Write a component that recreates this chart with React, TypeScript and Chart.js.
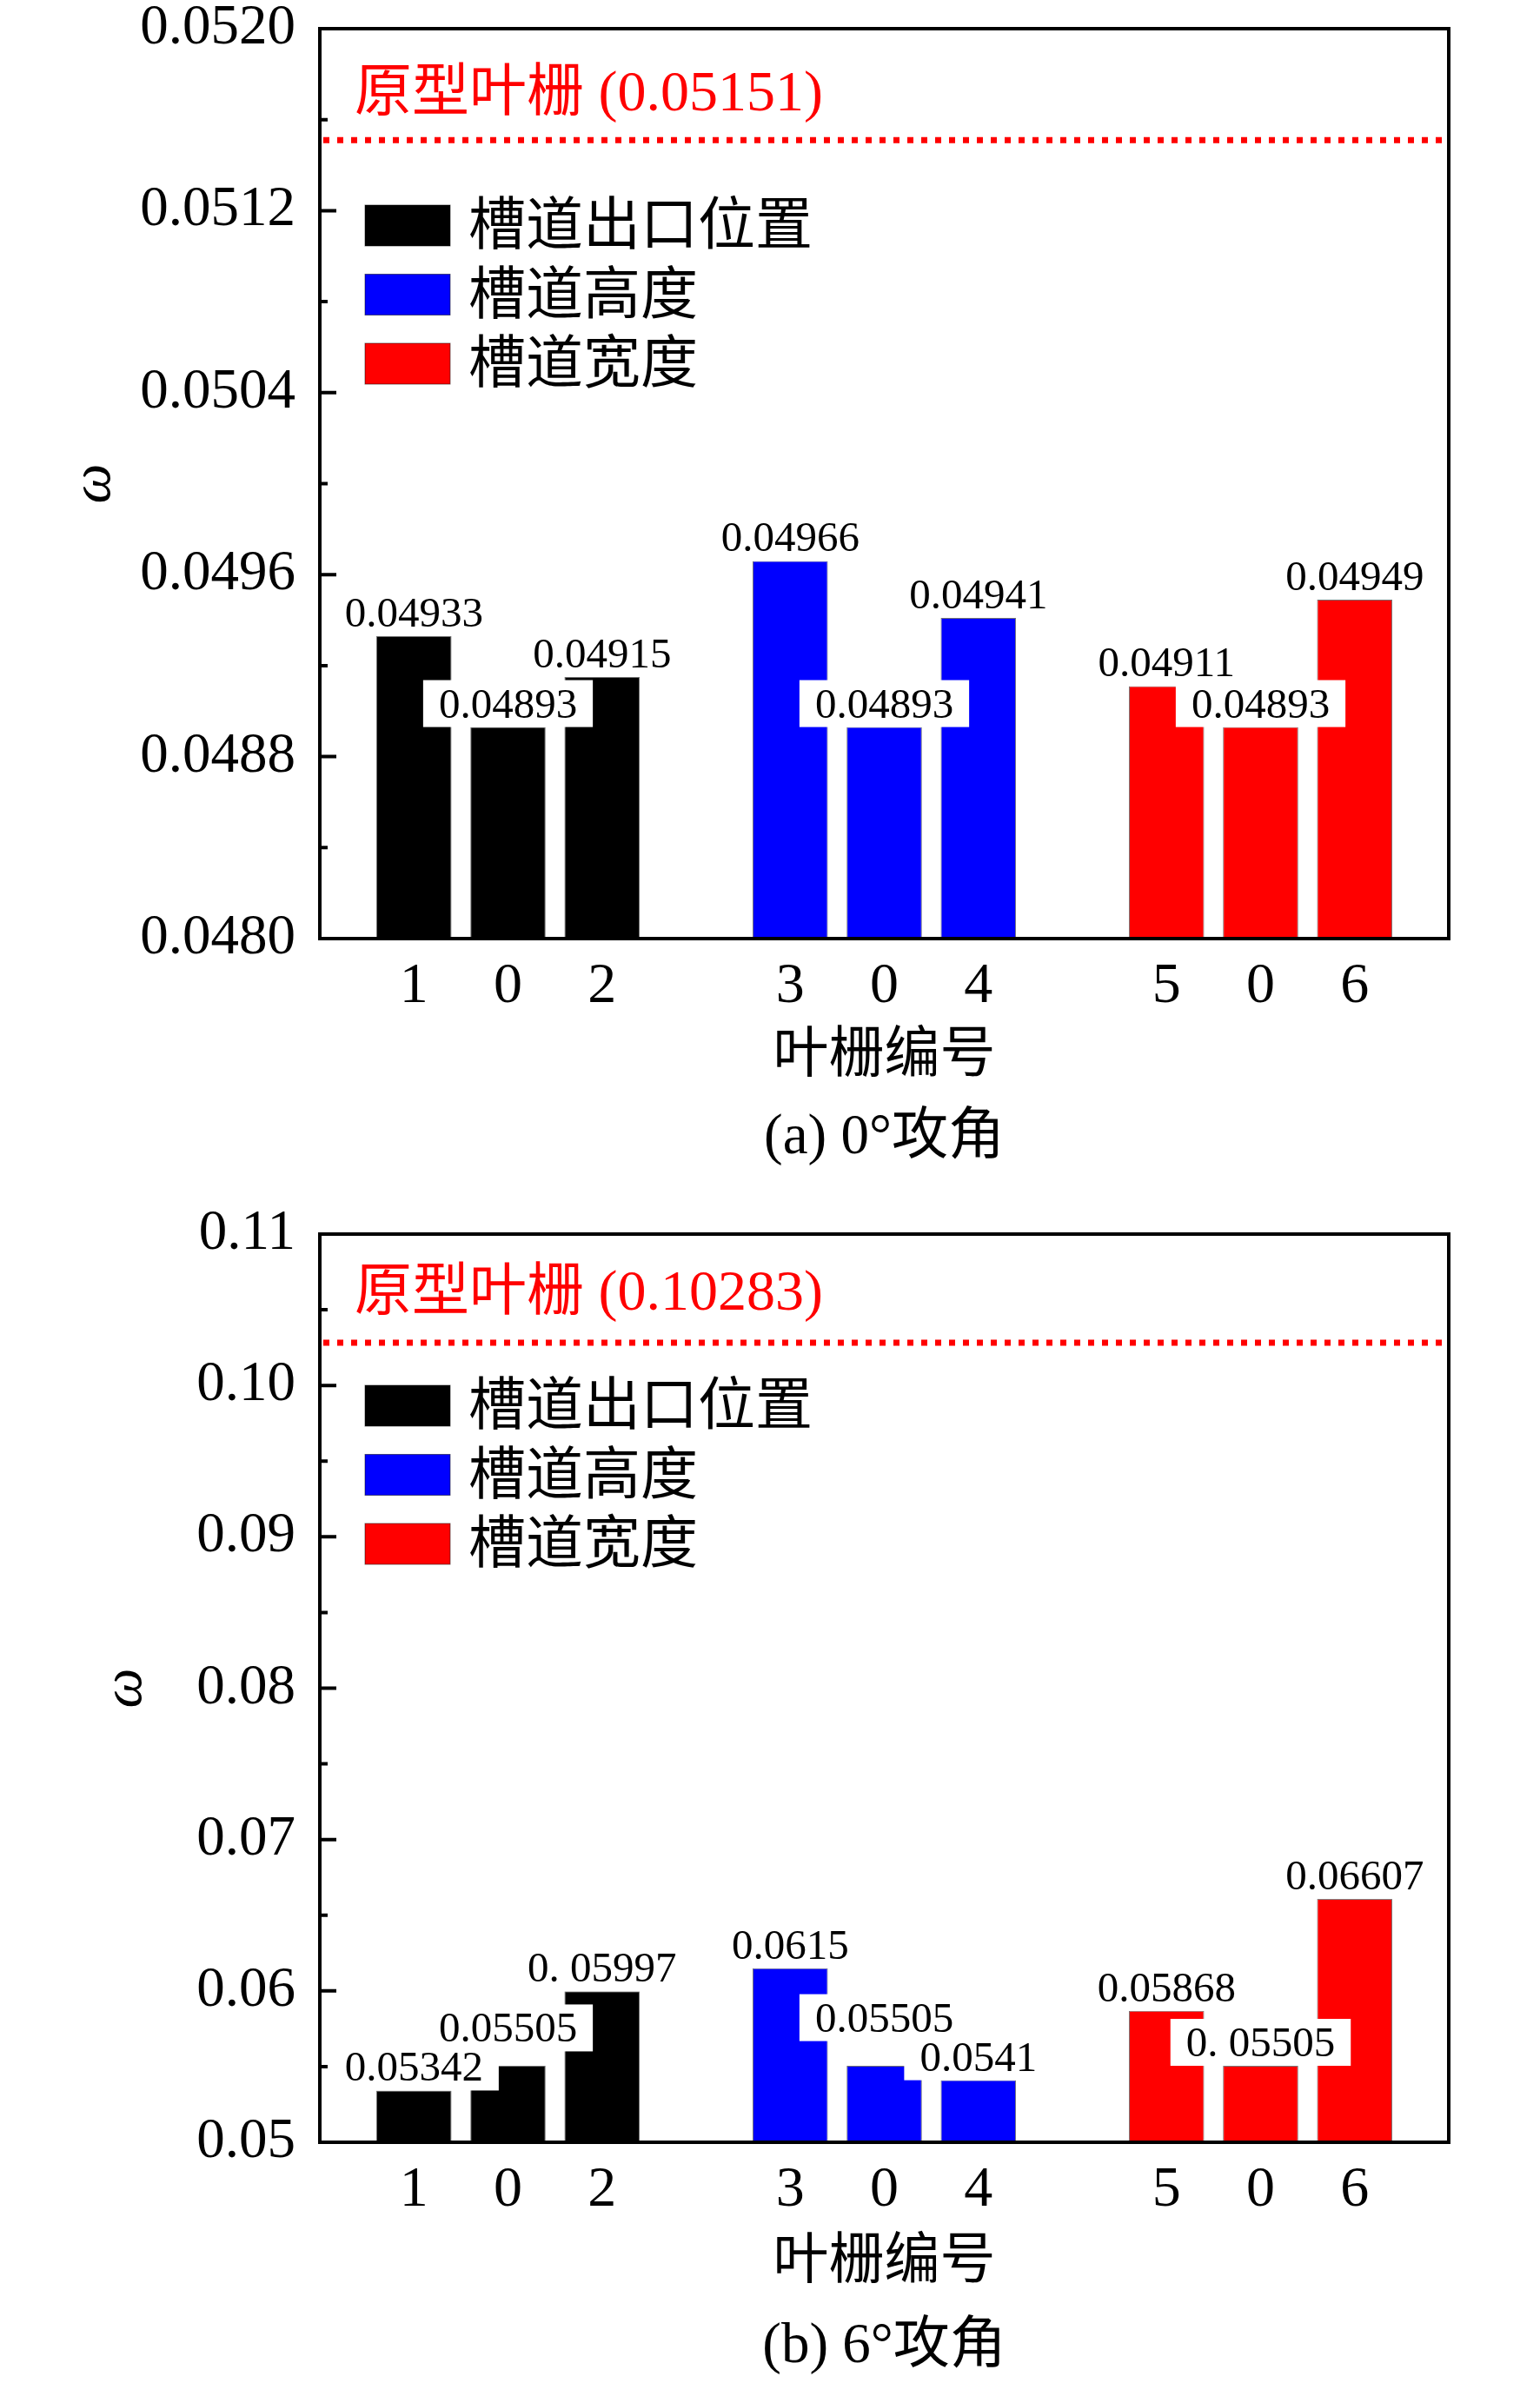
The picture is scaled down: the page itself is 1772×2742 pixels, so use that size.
import { useEffect, useRef } from 'react';
import { Chart, registerables } from 'chart.js';
import type { Plugin } from 'chart.js';

Chart.register(...registerables);

// x slots: bars sit on 1-3, 5-7, 9-11; the empty ones are spacers
const slotLabels = ['', '1', '0', '2', '', '3', '0', '4', '', '5', '0', '6', ''];
const seriesNames = ['槽道出口位置', '槽道高度', '槽道宽度'];
const seriesColors = ['#000000', '#0000ff', '#ff0000'];

// (a) 0° incidence
const outletA = [0.04933, 0.04893, 0.04915];
const heightA = [0.04966, 0.04893, 0.04941];
const widthA = [0.04911, 0.04893, 0.04949];
const baselineA = 0.05151;

// (b) 6° incidence
const outletB = [0.05342, 0.05505, 0.05997];
const heightB = [0.0615, 0.05505, 0.0541];
const widthB = [0.05868, 0.05505, 0.06607];
const baselineB = 0.10283;
// value labels as printed in the figure
const outletBText = ['0.05342', '0.05505', '0. 05997'];
const heightBText = ['0.0615', '0.05505', '0.0541'];
const widthBText = ['0.05868', '0. 05505', '0.06607'];

const W = 1772;
const H = 1371;
const PLOT_LEFT = 368;
const PLOT_RIGHT = 1667;
const SERIF = '"Liberation Serif", "Times New Roman", serif';
const MIXED = '"Liberation Serif", "Noto Sans CJK SC", sans-serif';
const LABEL_STEP = 45; // min baseline distance between overlapping value labels

function toSlots<T>(values: T[], group: number): (T | null)[] {
  const out: (T | null)[] = slotLabels.map(() => null);
  values.forEach((v, i) => {
    out[1 + group * 4 + i] = v;
  });
  return out;
}

interface PanelProps {
  outlet: number[];
  height: number[];
  width: number[];
  texts?: string[][];
  yMin: number;
  yMax: number;
  yStep: number;
  yDigits: number;
  refValue: number;
  caption: string;
  plotTop: number;
  plotBottom: number;
  legendTop: number;
  refTextGap: number;
  omegaPad: number;
  titleGap: number;
  captionGap: number;
}

function Panel(p: PanelProps) {
  const canvasRef = useRef<HTMLCanvasElement>(null);

  useEffect(() => {
    if (!canvasRef.current) return;

    const groups = [p.outlet, p.height, p.width];
    const texts = p.texts ?? groups.map((g) => g.map((v) => String(v)));
    const slotTexts = texts.map((t, i) => toSlots(t, i));
    const isMajor = (v: number) => {
      const k = (v - p.yMin) / p.yStep;
      return Math.abs(k - Math.round(k)) < 1e-6;
    };

    const decor: Plugin<'bar'> = {
      id: 'decor',
      afterDraw(chart) {
        const { ctx, chartArea: a } = chart;
        const y = chart.scales.y;
        ctx.save();

        // reference cascade line + note
        const ry = y.getPixelForValue(p.refValue);
        ctx.strokeStyle = '#ff0000';
        ctx.lineWidth = 7;
        ctx.setLineDash([7, 9]);
        ctx.beginPath();
        ctx.moveTo(a.left + 4, ry);
        ctx.lineTo(a.right - 4, ry);
        ctx.stroke();
        ctx.setLineDash([]);
        ctx.fillStyle = '#ff0000';
        ctx.font = `66px ${MIXED}`;
        ctx.textAlign = 'left';
        ctx.textBaseline = 'alphabetic';
        ctx.fillText(`原型叶栅 (${p.refValue})`, a.left + 40, ry - p.refTextGap);

        // legend
        ctx.textBaseline = 'middle';
        seriesNames.forEach((name, i) => {
          const top = a.top + p.legendTop + i * 79.5;
          ctx.fillStyle = seriesColors[i];
          ctx.fillRect(a.left + 52, top, 98, 47);
          ctx.strokeStyle = 'rgba(0,0,0,0.5)';
          ctx.lineWidth = 1;
          ctx.strokeRect(a.left + 52, top, 98, 47);
          ctx.fillStyle = '#000';
          ctx.font = `66px ${MIXED}`;
          ctx.fillText(name, a.left + 171, top + 28);
        });

        // value labels: sit on the bar, lifted when they would hit a neighbour
        ctx.font = `49px ${SERIF}`;
        const items: { x: number; base: number; w: number; text: string }[] = [];
        chart.data.datasets.forEach((ds, di) => {
          chart.getDatasetMeta(di).data.forEach((bar, i) => {
            if (ds.data[i] == null) return;
            const text = slotTexts[di][i] ?? '';
            items.push({ x: bar.x, base: bar.y - 11, w: ctx.measureText(text).width, text });
          });
        });
        const placed: typeof items = [];
        items
          .slice()
          .sort((m, n) => n.base - m.base)
          .forEach((it) => {
            let moved = true;
            while (moved) {
              moved = false;
              for (const q of placed) {
                const hOverlap = Math.abs(it.x - q.x) < (it.w + q.w) / 2 + 6;
                if (hOverlap && Math.abs(it.base - q.base) < LABEL_STEP) {
                  it.base = q.base - LABEL_STEP;
                  moved = true;
                }
              }
            }
            placed.push(it);
          });
        ctx.fillStyle = '#ffffff';
        items.forEach((it) => {
          const w = it.w + 36;
          ctx.fillRect(it.x - w / 2, it.base - 43, w, 54);
        });
        ctx.fillStyle = '#000';
        ctx.textAlign = 'center';
        ctx.textBaseline = 'alphabetic';
        items.forEach((it) => ctx.fillText(it.text, it.x, it.base));

        // frame
        ctx.strokeStyle = '#000';
        ctx.lineWidth = 4;
        ctx.strokeRect(a.left, a.top, a.right - a.left, a.bottom - a.top);

        // inward ticks on the left axis
        ctx.beginPath();
        y.ticks.forEach((t) => {
          const py = y.getPixelForValue(t.value);
          ctx.moveTo(a.left, py);
          ctx.lineTo(a.left + (isMajor(t.value) ? 19 : 9), py);
        });
        ctx.stroke();

        // axis title and caption
        const cx = (a.left + a.right) / 2;
        ctx.fillStyle = '#000';
        ctx.textBaseline = 'middle';
        ctx.font = `64px ${MIXED}`;
        ctx.fillText('叶栅编号', cx, a.bottom + p.titleGap);
        ctx.font = `65px ${MIXED}`;
        ctx.fillText(p.caption, cx, a.bottom + p.captionGap);

        ctx.restore();
      },
    };

    const chart = new Chart(canvasRef.current, {
      type: 'bar',
      data: {
        labels: slotLabels,
        datasets: groups.map((g, i) => ({
          label: seriesNames[i],
          data: toSlots(g, i),
          backgroundColor: seriesColors[i],
          borderColor: 'rgba(0,0,0,0.55)',
          borderWidth: 1,
          grouped: false,
          barPercentage: 0.8,
          categoryPercentage: 1,
        })),
      },
      options: {
        responsive: false,
        animation: false,
        devicePixelRatio: 1,
        layout: { padding: { top: p.plotTop, right: W - PLOT_RIGHT, left: 0, bottom: 0 } },
        plugins: {
          legend: { display: false },
          tooltip: { enabled: false },
        },
        scales: {
          x: {
            type: 'category',
            offset: false,
            grid: { display: false, drawTicks: false },
            border: { display: false },
            ticks: {
              autoSkip: false,
              maxRotation: 0,
              padding: 16,
              color: '#000',
              font: { family: SERIF, size: 66 },
            },
            afterFit: (s) => {
              s.height = H - p.plotBottom;
              s.paddingLeft = 0;
              s.paddingRight = 0;
            },
          },
          y: {
            type: 'linear',
            min: p.yMin,
            max: p.yMax,
            grid: { display: false, drawTicks: false },
            border: { display: false },
            ticks: {
              stepSize: p.yStep / 2,
              autoSkip: false,
              padding: 28,
              color: '#000',
              font: { family: SERIF, size: 65, lineHeight: 1 },
              callback: (v) => (isMajor(Number(v)) ? Number(v).toFixed(p.yDigits) : ''),
            },
            title: {
              display: true,
              text: 'ω',
              color: '#000',
              font: { family: SERIF, size: 65, style: 'italic' },
              padding: { top: p.omegaPad, bottom: 0 },
            },
            afterFit: (s) => {
              s.width = PLOT_LEFT;
              s.paddingTop = 0;
              s.paddingBottom = 0;
            },
          },
        },
      },
      plugins: [decor],
    });

    return () => chart.destroy();
  }, [p]);

  return (
    <canvas
      ref={canvasRef}
      width={W}
      height={H}
      style={{ display: 'block', width: W, height: H }}
    />
  );
}

const panelA: PanelProps = {
  outlet: outletA,
  height: heightA,
  width: widthA,
  yMin: 0.048,
  yMax: 0.052,
  yStep: 0.0008,
  yDigits: 4,
  refValue: baselineA,
  caption: '(a) 0°攻角',
  plotTop: 33,
  plotBottom: 1080,
  legendTop: 203,
  refTextGap: 34,
  omegaPad: 70,
  titleGap: 136,
  captionGap: 230,
};

const panelB: PanelProps = {
  outlet: outletB,
  height: heightB,
  width: widthB,
  texts: [outletBText, heightBText, widthBText],
  yMin: 0.05,
  yMax: 0.11,
  yStep: 0.01,
  yDigits: 2,
  refValue: baselineB,
  caption: '(b) 6°攻角',
  plotTop: 49,
  plotBottom: 1094,
  legendTop: 174,
  refTextGap: 38,
  omegaPad: 106,
  titleGap: 139,
  captionGap: 236,
};

export default function App() {
  return (
    <div style={{ position: 'absolute', left: 0, top: 0, width: W, height: H * 2, background: '#fff' }}>
      <Panel {...panelA} />
      <Panel {...panelB} />
    </div>
  );
}
